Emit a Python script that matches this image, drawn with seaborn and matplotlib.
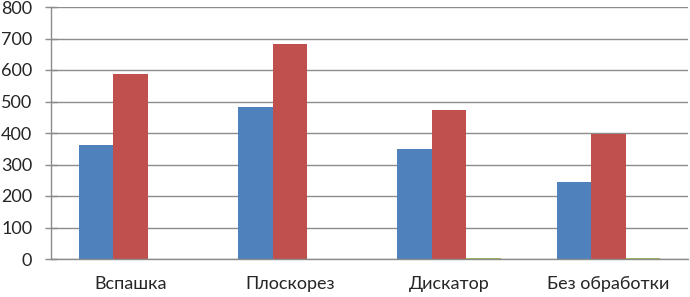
import matplotlib
matplotlib.use("Agg")
import matplotlib.pyplot as plt
import seaborn as sns
import pandas as pd

# данные с диаграммы
categories = ['Вспашка', 'Плоскорез', 'Дискатор', 'Без обработки']
series_names = ['Ряд1', 'Ряд2', 'Ряд3']
ryad1 = [362, 483, 350, 245]
ryad2 = [587, 684, 474, 397]
ryad3 = [0, 0, 2, 3]
colors = ['#4F81BD', '#C0504D', '#9BBB59']

df = pd.DataFrame({
    'Категория': categories * 3,
    'Ряд': [series_names[0]] * 4 + [series_names[1]] * 4 + [series_names[2]] * 4,
    'Значение': ryad1 + ryad2 + ryad3,
})

sns.set_style('white')
plt.rcParams['font.family'] = ['Lato', 'DejaVu Sans']

fig = plt.figure(figsize=(6.9, 2.97), dpi=100)
ax = fig.add_axes([51 / 690, 1 - 259 / 297, (688 - 51) / 690, (259 - 7) / 297])

sns.barplot(data=df, x='Категория', y='Значение', hue='Ряд', palette=colors,
            width=0.65, gap=0, saturation=1, linewidth=0, legend=False, ax=ax)

ax.set_ylim(0, 800)
ax.set_xlim(-0.5, 3.5)
ax.set_yticks(range(0, 801, 100))
ax.yaxis.grid(True, color='#8c8c8c', linewidth=1)
ax.set_axisbelow(True)
ax.set_xlabel('')
ax.set_ylabel('')

for side in ['top', 'right']:
    ax.spines[side].set_visible(False)
for side in ['left', 'bottom']:
    ax.spines[side].set_color('#8c8c8c')
    ax.spines[side].set_linewidth(1)

ax.set_xticks([-0.5, 0.5, 1.5, 2.5, 3.5], minor=True)
ax.tick_params(axis='x', which='major', length=0, pad=12, labelsize=13)
ax.tick_params(axis='x', which='minor', length=5, color='#8c8c8c', direction='out')
ax.tick_params(axis='y', length=9, width=1, color='#8c8c8c', direction='inout',
               labelsize=13, pad=9, left=True)

fig.savefig('out.png', dpi=100)
